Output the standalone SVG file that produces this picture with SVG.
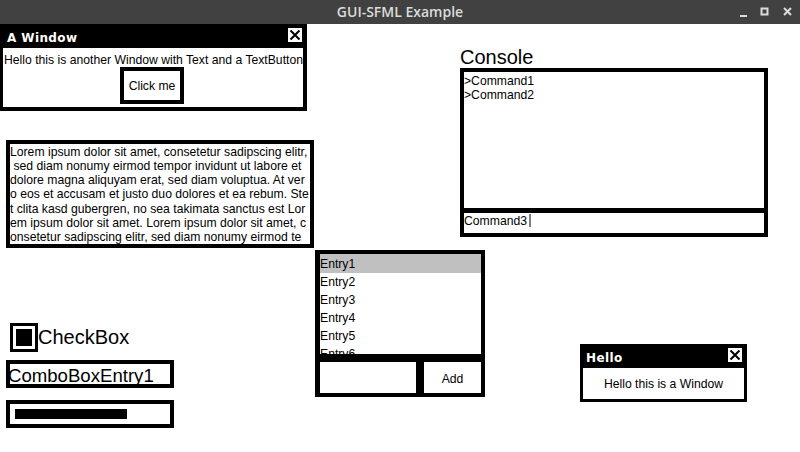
<svg xmlns="http://www.w3.org/2000/svg" width="800" height="452" viewBox="0 0 800 452">
<style>
.t{font-family:"Liberation Sans",Arial,sans-serif;font-size:12.2px;fill:#000}
.wt{font-family:"DejaVu Sans",sans-serif;font-weight:bold;font-size:12px;fill:#fff;letter-spacing:0.4px}
.big{font-family:"Liberation Sans",Arial,sans-serif;font-size:20px;fill:#000}
.blk{fill:#000}
.wht{fill:#fff}
.x{stroke:#000;stroke-width:2;fill:none}
</style>
<rect width="800" height="452" fill="#fff"/>
<g id="titlebar">
<rect x="0" y="0" width="800" height="24" fill="#414141"/>
<text x="400" y="17" text-anchor="middle" font-family="'Open Sans',sans-serif" font-weight="600" font-size="14" fill="#dcdcdc">GUI-SFML Example</text>
<rect x="740" y="15" width="7" height="2" fill="#dcdcdc"/>
<rect x="761.5" y="8.5" width="6" height="6" fill="none" stroke="#dcdcdc" stroke-width="2"/>
<path d="M784 8 L791 15 M791 8 L784 15" stroke="#dcdcdc" stroke-width="2"/>
</g>
<g id="a-window">
<rect x="0" y="24" width="307" height="87" class="blk"/>
<text x="7" y="42" class="wt">A Window</text>
<rect x="288" y="28" width="14" height="14" class="wht"/>
<path d="M290.5 30.5 L299.5 39.5 M299.5 30.5 L290.5 39.5" class="x"/>
<rect x="3" y="48" width="300" height="59" class="wht"/>
<text x="153.5" y="63.5" text-anchor="middle" class="t">Hello this is another Window with Text and a TextButton</text>
<g id="click-me">
<rect x="120" y="67" width="64" height="37" class="blk"/>
<rect x="124" y="71" width="56" height="29" class="wht"/>
<text x="152" y="90" text-anchor="middle" class="t">Click me</text>
</g>
</g>
<g id="lorem">
<rect x="6" y="140" width="308" height="108" class="blk"/>
<rect x="10" y="144" width="300" height="100" class="wht"/>
<text class="t" xml:space="preserve"><tspan x="10" y="155.5">Lorem ipsum dolor sit amet, consetetur sadipscing elitr,</tspan><tspan x="10" y="169.8"> sed diam nonumy eirmod tempor invidunt ut labore et</tspan><tspan x="10" y="184">dolore magna aliquyam erat, sed diam voluptua. At ver</tspan><tspan x="10" y="198.3">o eos et accusam et justo duo dolores et ea rebum. Ste</tspan><tspan x="10" y="212.6">t clita kasd gubergren, no sea takimata sanctus est Lor</tspan><tspan x="10" y="226.9">em ipsum dolor sit amet. Lorem ipsum dolor sit amet, c</tspan><tspan x="10" y="241">onsetetur sadipscing elitr, sed diam nonumy eirmod te</tspan></text>
</g>
<g id="console">
<text x="460" y="64" class="big">Console</text>
<rect x="460" y="68" width="308" height="169" class="blk"/>
<rect x="464" y="72" width="300" height="136" class="wht"/>
<rect x="464" y="213" width="300" height="20" class="wht"/>
<text x="464" y="84.5" class="t">&gt;Command1</text>
<text x="464" y="98.5" class="t">&gt;Command2</text>
<text x="464" y="225" class="t">Command3</text>
<rect x="529.5" y="214" width="1" height="13" class="blk"/>
</g>
<g id="listbox">
<rect x="315" y="250" width="170" height="147" class="blk"/>
<rect x="320" y="254" width="161" height="100" class="wht"/>
<rect x="320" y="254" width="161" height="19" fill="#c0c0c0"/>
<svg x="320" y="254" width="161" height="100" overflow="hidden">
<text x="0" y="14" class="t">Entry1</text>
<text x="0" y="32" class="t">Entry2</text>
<text x="0" y="50" class="t">Entry3</text>
<text x="0" y="68" class="t">Entry4</text>
<text x="0" y="86" class="t">Entry5</text>
<text x="0" y="104" class="t">Entry6</text>
</svg>
<rect x="320" y="362" width="96" height="31" class="wht"/>
<rect x="424" y="362" width="57" height="31" class="wht"/>
<text x="452.5" y="383" text-anchor="middle" class="t">Add</text>
</g>
<g id="checkbox">
<rect x="10" y="323" width="28" height="29" class="blk"/>
<rect x="13" y="326" width="22" height="23" class="wht"/>
<rect x="16" y="329" width="16" height="17" class="blk"/>
<text x="38" y="344" class="big">CheckBox</text>
</g>
<g id="combobox">
<rect x="6" y="360" width="168" height="28" class="blk"/>
<rect x="10" y="364" width="160" height="20" class="wht"/>
<text x="8" y="382" font-family="'Liberation Sans',Arial,sans-serif" font-size="18.6">ComboBoxEntry1</text>
</g>
<g id="progressbar">
<rect x="6" y="400" width="168" height="28" class="blk"/>
<rect x="10" y="404" width="160" height="20" class="wht"/>
<rect x="15" y="409" width="112" height="10" class="blk"/>
</g>
<g id="hello-window">
<rect x="580" y="344" width="167" height="58" class="blk"/>
<text x="586" y="362" class="wt">Hello</text>
<rect x="728" y="348" width="14" height="14" class="wht"/>
<path d="M730.5 350.5 L739.5 359.5 M739.5 350.5 L730.5 359.5" class="x"/>
<rect x="583" y="368" width="161" height="31" class="wht"/>
<text x="663.5" y="387.5" text-anchor="middle" class="t">Hello this is a Window</text>
</g>
</svg>
